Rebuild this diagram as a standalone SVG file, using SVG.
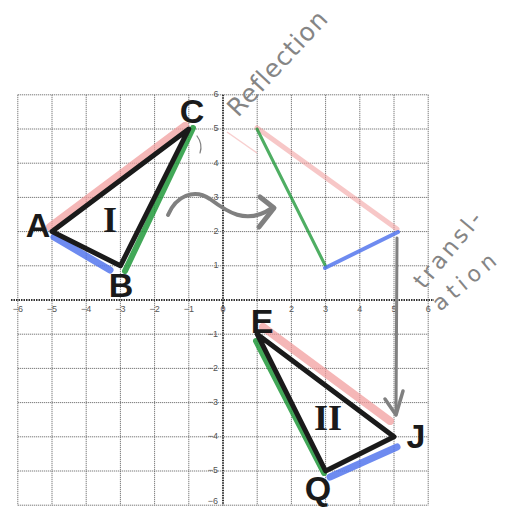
<svg xmlns="http://www.w3.org/2000/svg" width="511" height="508" viewBox="0 0 511 508">
<style>
.grid{stroke:#5a5a5a;stroke-width:1;stroke-dasharray:1 1;fill:none}
.axis{stroke:#333;stroke-width:2;stroke-dasharray:1.5 1;fill:none}
.tick{font-family:"Liberation Sans",Arial,sans-serif;font-size:9px;fill:#555;text-anchor:middle;dominant-baseline:middle}
.lbl{font-family:"Liberation Sans",Arial,sans-serif;font-weight:bold;font-size:34px;fill:#1a1a1a;text-anchor:middle}
.rom{font-family:"Liberation Serif","Times New Roman",serif;font-weight:bold;font-size:36px;fill:#1a1a1a;text-anchor:middle}
.tri{stroke:#1a1a1a;stroke-width:5;fill:none;stroke-linejoin:round;stroke-linecap:round}
.pk{stroke:#f29a9a;stroke-width:8;stroke-linecap:round;opacity:0.7}
.bl{stroke:#5577ee;stroke-width:7;stroke-linecap:round;opacity:0.85}
.gr{stroke:#229a3c;stroke-width:6;stroke-linecap:round;opacity:0.85}
.pencil{stroke:#808080;fill:none;stroke-linecap:round;stroke-linejoin:round}
.hand{font-family:"DejaVu Sans",sans-serif;fill:#858585}
</style>
<rect width="511" height="508" fill="#fff"/>
<g id="grid">
<path class="grid" d="M17.8,94.8V505.2M52,94.8V505.2M86.2,94.8V505.2M120.4,94.8V505.2M154.6,94.8V505.2M188.8,94.8V505.2M257.2,94.8V505.2M291.4,94.8V505.2M325.6,94.8V505.2M359.8,94.8V505.2M394,94.8V505.2M428.2,94.8V505.2"/>
<path class="grid" d="M17.8,94.8H428.2M17.8,129H428.2M17.8,163.2H428.2M17.8,197.4H428.2M17.8,231.6H428.2M17.8,265.8H428.2M17.8,334.2H428.2M17.8,368.4H428.2M17.8,402.6H428.2M17.8,436.8H428.2M17.8,471H428.2M17.8,505.2H428.2"/>
<path class="axis" d="M11,300H434M223,94.8V505.2"/>
</g>
<g id="ticks">
<text class="tick" x="17.8" y="310">−6</text>
<text class="tick" x="52" y="310">−5</text>
<text class="tick" x="86.2" y="310">−4</text>
<text class="tick" x="120.4" y="310">−3</text>
<text class="tick" x="154.6" y="310">−2</text>
<text class="tick" x="188.8" y="310">−1</text>
<text class="tick" x="223" y="310">0</text>
<text class="tick" x="291.4" y="310">2</text>
<text class="tick" x="325.6" y="310">3</text>
<text class="tick" x="359.8" y="310">4</text>
<text class="tick" x="394" y="310">5</text>
<text class="tick" x="428.2" y="310">6</text>
<text class="tick" x="216" y="94.8">6</text>
<text class="tick" x="216" y="129">5</text>
<text class="tick" x="216" y="163.2">4</text>
<text class="tick" x="216" y="197.4">3</text>
<text class="tick" x="216" y="231.6">2</text>
<text class="tick" x="216" y="265.8">1</text>
<text class="tick" x="213" y="334.2">−1</text>
<text class="tick" x="213" y="368.4">−2</text>
<text class="tick" x="213" y="402.6">−3</text>
<text class="tick" x="213" y="436.8">−4</text>
<text class="tick" x="213" y="471">−5</text>
<text class="tick" x="213" y="502">−6</text>
</g>
<g id="reflected">
<line x1="227" y1="132" x2="257" y2="153" stroke="#f4b0b0" stroke-width="1.5" opacity="0.6"/>
<line class="pk" x1="257" y1="128" x2="397" y2="229" style="stroke-width:5;opacity:0.55"/>
<line class="gr" x1="257" y1="129" x2="326" y2="267" style="stroke-width:3;opacity:0.8"/>
<line class="bl" x1="325" y1="268" x2="398" y2="232" style="stroke-width:4"/>
</g>
<g id="triangle-I">
<line class="pk" x1="50" y1="227" x2="185" y2="126"/>
<line class="bl" x1="54" y1="237" x2="110" y2="270"/>
<line class="gr" x1="125" y1="271" x2="193" y2="128"/>
<polygon class="tri" points="52,231.6 120.4,265.8 188.8,129"/>
<text class="lbl" x="38" y="237">A</text>
<text class="lbl" x="121" y="297">B</text>
<text class="lbl" x="192" y="123">C</text>
<text class="rom" x="110" y="232">I</text>
<path class="pencil" d="M197,136 Q203,144 200,153" stroke-width="1.2"/>
</g>
<g id="triangle-II">
<line class="pk" x1="263" y1="327" x2="390" y2="421"/>
<line class="gr" x1="256" y1="341" x2="324" y2="473"/>
<line class="bl" x1="330" y1="477" x2="397" y2="447"/>
<polygon class="tri" points="257.2,334.2 394,436.8 325.6,471"/>
<text class="lbl" x="262" y="333">E</text>
<text class="lbl" x="416" y="448">J</text>
<text class="lbl" x="318" y="500">Q</text>
<text class="rom" x="328" y="430">II</text>
</g>
<g id="connectors">
<path class="pencil" d="M168,215 C176,196 194,188 210,199 C226,211 246,226 272,208" stroke-width="4"/>
<path class="pencil" d="M260,197 L274,208 L259,227" stroke-width="5"/>
<path class="pencil" d="M397,238 L396,414" stroke-width="3"/>
<path class="pencil" d="M385,399 L396,415 L403,391" stroke-width="3.5"/>
</g>
<g id="annotations">
<text class="hand" font-size="25" letter-spacing="1" transform="translate(238,118) rotate(-47)">Reflection</text>
<text class="hand" font-size="23" letter-spacing="3" transform="translate(424,290) rotate(-50)">transl-</text>
<text class="hand" font-size="22" letter-spacing="5" transform="translate(440,312) rotate(-40)">ation</text>
</g>
</svg>
